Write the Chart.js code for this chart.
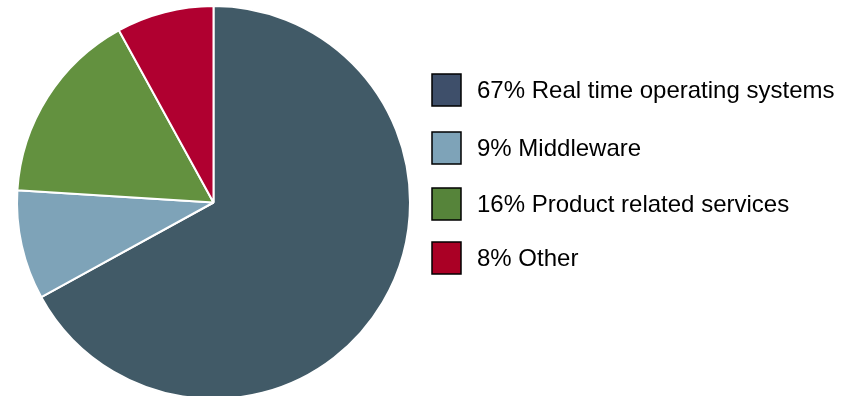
<!DOCTYPE html>
<html>
<head>
<meta charset="utf-8">
<script src="https://cdn.jsdelivr.net/npm/chart.js@4"></script>
<style>
  html, body { margin: 0; padding: 0; background: #fff; overflow: hidden; }
  #wrap { width: 856px; height: 400px; position: relative; }
</style>
</head>
<body>
<div id="wrap"><canvas id="pie1"></canvas></div>
<script>
// data
var categorias = ['Real time operating systems', 'Middleware', 'Product related services', 'Other'];
var porcentajes = [67, 9, 16, 8];
var colores_pie = ['#415a67', '#7ea3b8', '#63913f', '#b00030'];
var colores_leyenda = ['#3e4f6a', '#7ea3b8', '#56843a', '#aa0025'];

// filas de la leyenda (centro vertical de cada una)
var filas_y = [90, 148, 204, 258];

// leyenda dibujada a mano a la derecha del pastel
var leyenda = {
    id: 'leyenda',
    afterDraw(chart) {
        var c = chart.ctx;
        c.save();
        c.font = '24px "Liberation Sans", Arial, sans-serif';
        c.textBaseline = 'middle';
        for (i = 0; i < categorias.length; i++) {
            var y = filas_y[i];
            c.fillStyle = colores_leyenda[i];
            c.fillRect(432, y - 16, 29, 32);
            c.strokeStyle = '#000';
            c.lineWidth = 1.5;
            c.strokeRect(432, y - 16, 29, 32);
            c.fillStyle = '#000';
            c.fillText(`${porcentajes[i]}% ${categorias[i]}`, 477, y + 1);
        }
        c.restore();
    }
};

var ctx = document.getElementById('pie1').getContext('2d');
var chart_pie = new Chart(ctx, {
    type: 'pie',
    data: {
        labels: categorias,
        datasets: [{
            data: porcentajes,
            backgroundColor: colores_pie,
            borderColor: '#ffffff',
            borderWidth: 2,
            hoverOffset: 0
        }]
    },
    options: {
        responsive: true,
        maintainAspectRatio: false,
        animation: false,
        layout: { padding: { left: 16, right: 445, top: 5, bottom: 0 } },
        plugins: {
            legend: { display: false },
            tooltip: { enabled: false }
        }
    },
    plugins: [leyenda]
});
</script>
</body>
</html>
